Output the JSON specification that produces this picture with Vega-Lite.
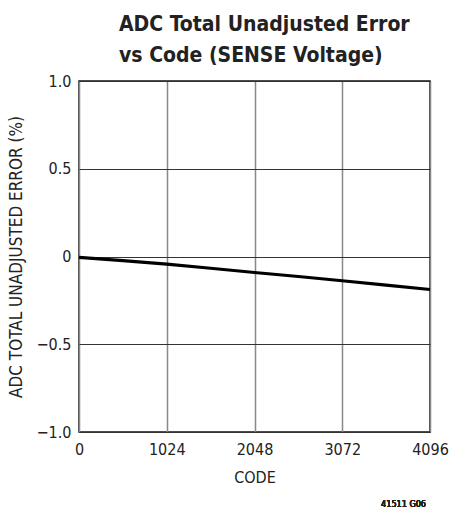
{
  "$schema": "https://vega.github.io/schema/vega-lite/v6.json",
  "width": 351,
  "height": 351,
  "autosize": {"type": "none"},
  "padding": {"left": 79, "top": 81, "right": 21, "bottom": 76},
  "background": "white",
  "config": {
    "font": "DejaVu Sans Condensed, DejaVu Sans, sans-serif",
    "view": {"stroke": "#111", "strokeWidth": 1.5}
  },
  "title": {
    "text": ["ADC Total Unadjusted Error", "vs Code (SENSE Voltage)"],
    "anchor": "start",
    "frame": "group",
    "dx": 40,
    "offset": 7,
    "font": "DejaVu Sans Condensed, DejaVu Sans, sans-serif",
    "fontSize": 21,
    "fontWeight": "bold",
    "lineHeight": 31,
    "color": "#222"
  },
  "data": {
    "values": [
      {"code": 0, "err": -0.005},
      {"code": 512, "err": -0.024},
      {"code": 1024, "err": -0.043},
      {"code": 1536, "err": -0.067},
      {"code": 2048, "err": -0.091},
      {"code": 2560, "err": -0.114},
      {"code": 3072, "err": -0.138},
      {"code": 3584, "err": -0.163},
      {"code": 4096, "err": -0.188}
    ]
  },
  "layer": [
    {
      "mark": {"type": "line", "color": "black", "strokeWidth": 3.2},
      "encoding": {
        "x": {
          "field": "code",
          "type": "quantitative",
          "scale": {"domain": [0, 4096], "nice": false, "zero": false},
          "axis": {
            "values": [0, 1024, 2048, 3072, 4096],
            "format": "d",
            "title": "CODE",
            "titleFontSize": 16,
            "titleFontWeight": "normal",
            "titleColor": "#222",
            "titlePadding": 12,
            "labelFontSize": 16,
            "labelColor": "#222",
            "labelPadding": 9,
            "labelFlush": false,
            "ticks": false,
            "domain": false,
            "grid": true,
            "gridColor": "#888",
            "gridWidth": 1.5,
            "gridOpacity": 1
          }
        },
        "y": {
          "field": "err",
          "type": "quantitative",
          "scale": {"domain": [-1, 1], "nice": false, "zero": false},
          "axis": {
            "values": [-1, -0.5, 0, 0.5, 1],
            "labelExpr": "datum.value == 0 ? '0' : replace(format(datum.value, '.1f'), '-', '–')",
            "title": "ADC TOTAL UNADJUSTED ERROR (%)",
            "titleFontSize": 17,
            "titleFontWeight": "normal",
            "titleColor": "#222",
            "titlePadding": 11,
            "labelFontSize": 16,
            "labelColor": "#222",
            "labelPadding": 8,
            "labelFlush": false,
            "ticks": false,
            "domain": false,
            "grid": true,
            "gridColor": "#333",
            "gridWidth": 1,
            "gridOpacity": 1
          }
        }
      }
    },
    {
      "mark": {"type": "text", "text": "41511 G06", "fontSize": 9, "fontWeight": "normal", "align": "right", "baseline": "bottom", "dx": -4, "dy": 77, "color": "#222"},
      "encoding": {
        "x": {"datum": 4096},
        "y": {"datum": -1}
      }
    }
  ]
}
